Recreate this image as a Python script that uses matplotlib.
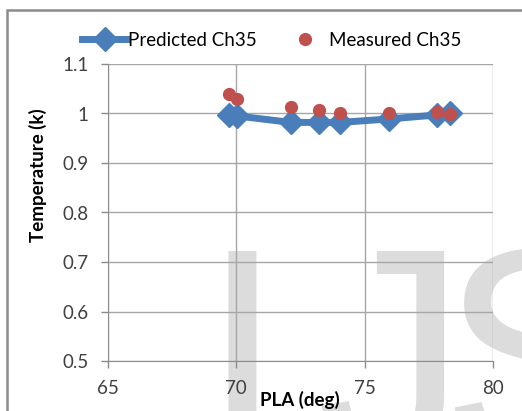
import matplotlib
matplotlib.use('Agg')

import matplotlib.pyplot as plt
from matplotlib.patches import Rectangle

# data
pla_pred = [69.73, 70.03, 72.12, 73.23, 74.04, 75.96, 77.80, 78.32]
temp_pred = [0.997, 0.995, 0.982, 0.982, 0.982, 0.989, 0.997, 1.000]
pla_meas = [69.73, 70.03, 72.12, 73.23, 74.04, 75.96, 77.80, 78.32]
temp_meas = [1.040, 1.030, 1.013, 1.007, 1.001, 1.001, 1.003, 0.999]
x_ticks = [65, 70, 75, 80]
y_ticks = [0.5, 0.6, 0.7, 0.8, 0.9, 1.0, 1.1]
y_tick_labels = ['0.5', '0.6', '0.7', '0.8', '0.9', '1', '1.1']

plt.rcParams['font.family'] = ['Lato', 'DejaVu Sans']

fig = plt.figure(figsize=(5.22, 4.11), dpi=100)
W, H = 522, 411

# outer chart border (runs off the right / bottom edge)
fig.patches.append(Rectangle((7 / W, -0.05), 1.1, 1 - 10 / H + 0.05,
                             transform=fig.transFigure, fill=False,
                             edgecolor='#8c8c8c', linewidth=1.8, zorder=-2))

# watermark letters, kept behind the axes
wm = dict(fontsize=215, color='#dcdcdc', fontfamily='Liberation Sans',
          va='top', ha='left', zorder=-1)
fig.text(200 / W, 1 - 240 / H, 'I', **wm)
fig.text(316 / W, 1 - 240 / H, 'J', **wm)
fig.text(440 / W, 1 - 240 / H, 'S', **wm)

ax = fig.add_axes([108 / W, 1 - 361 / H, (493 - 108) / W, (361 - 64) / H])
ax.patch.set_alpha(0)

ax.plot(pla_pred, temp_pred, color='#4a7ebb', linewidth=5, marker='D',
        markersize=12, label='Predicted Ch35', zorder=3)
ax.plot(pla_meas, temp_meas, linestyle='none', color='#c0504d', marker='o',
        markersize=8.5, label='Measured Ch35', zorder=4)

ax.set_xlim(65, 80)
ax.set_ylim(0.5, 1.1)
ax.set_xticks(x_ticks)
ax.set_yticks(y_ticks)
ax.set_yticklabels(y_tick_labels)
ax.grid(True, color='#a6a6a6', linewidth=1)
ax.set_axisbelow(True)
for side in ['top', 'right']:
    ax.spines[side].set_visible(False)
for side in ['left', 'bottom']:
    ax.spines[side].set_color('#8c8c8c')
ax.tick_params(axis='both', colors='#8c8c8c', labelcolor='#404040',
               labelsize=13.5, length=5, width=1)
ax.tick_params(axis='x', pad=9)
ax.tick_params(axis='y', pad=9)

ax.set_xlabel('PLA (deg)', fontsize=13.5, fontweight='bold')
ax.xaxis.set_label_coords((300 - 108) / 385, (361 - 400) / 297)
ax.set_ylabel('Temperature (k)', fontsize=13.5, fontweight='bold')
ax.yaxis.set_label_coords((38 - 108) / 385, (361 - 175) / 297)
ax.xaxis.label.set_va('center')
ax.yaxis.label.set_va('center')

fig.legend(loc='center left', bbox_to_anchor=(82 / W, 1 - 40 / H), ncol=2,
           frameon=False, fontsize=13.5, handlelength=2.4, handletextpad=0.05,
           columnspacing=1.4, borderaxespad=0, borderpad=0)

plt.savefig('out.png', dpi=100)
